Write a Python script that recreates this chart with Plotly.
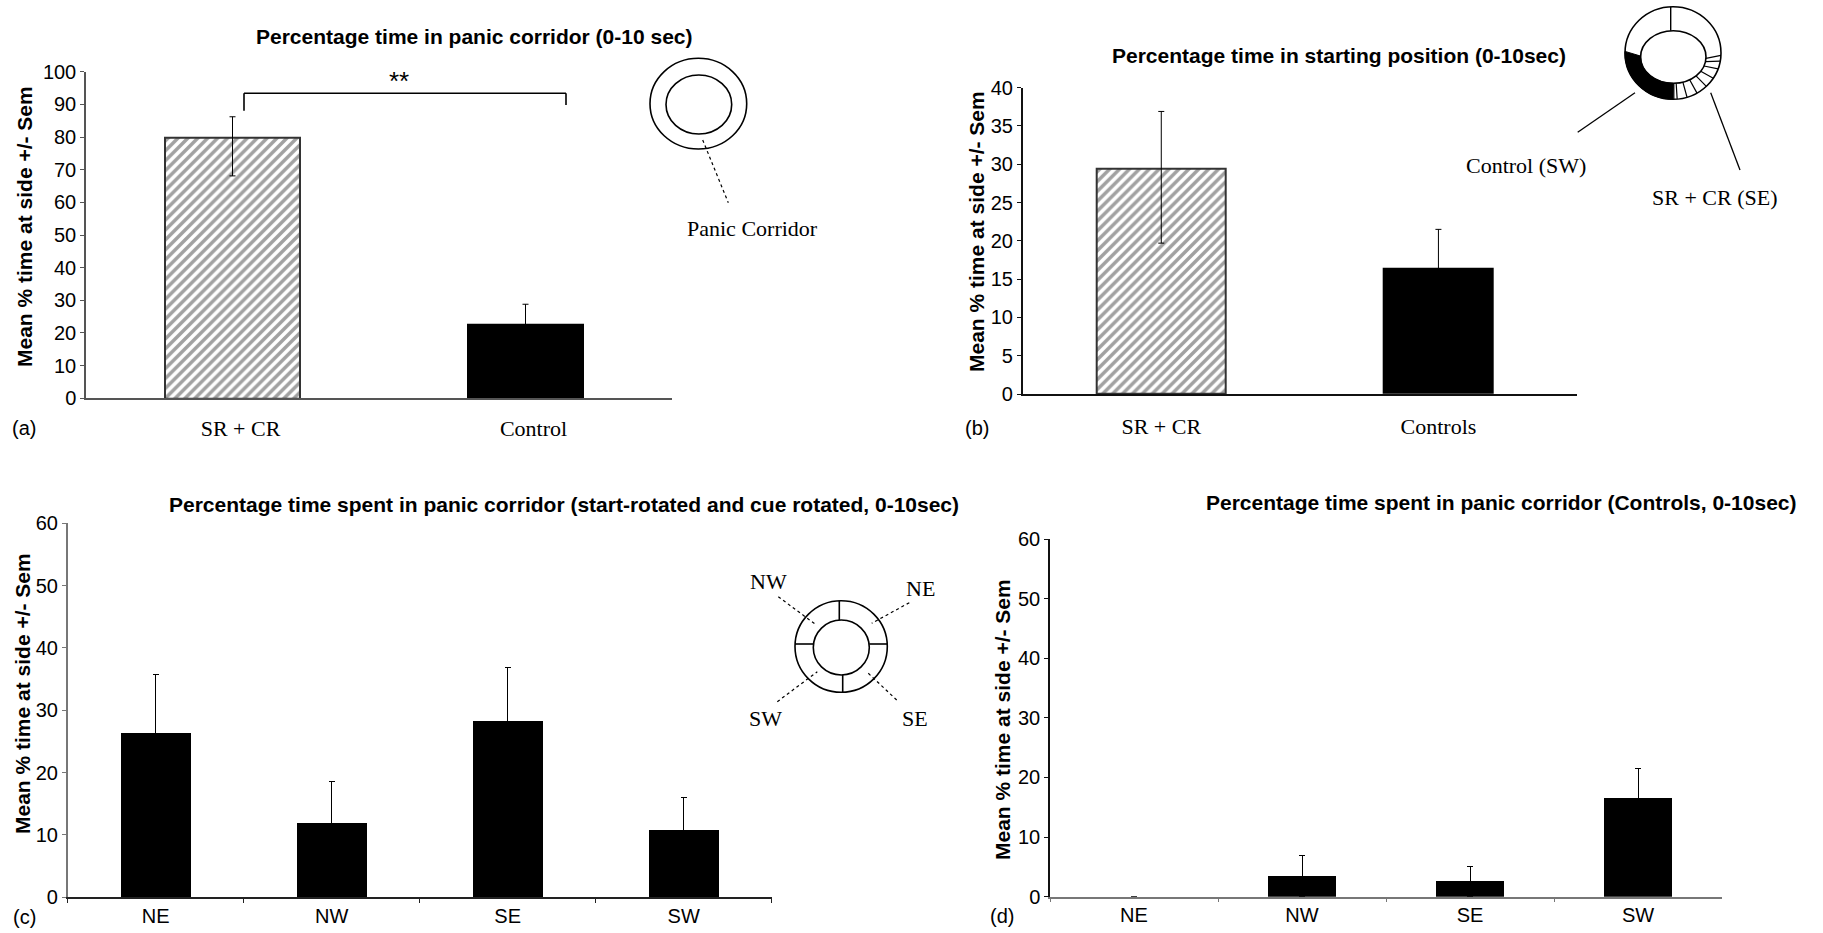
import math
import plotly.graph_objects as go

W, H = 1823, 933

# ---------------- data ----------------
a_categories = ["SR + CR", "Control"]
a_means = [79.8, 22.7]
a_err_plus = [6.4, 6.1]
a_err_minus = [11.7, 6.1]

b_categories = ["SR + CR", "Controls"]
b_means = [29.4, 16.5]
b_err_plus = [7.5, 5.0]
b_err_minus = [9.7, 5.0]

c_categories = ["NE", "NW", "SE", "SW"]
c_means = [26.3, 11.8, 28.3, 10.8]
c_err = [9.5, 6.7, 8.5, 5.2]

d_categories = ["NE", "NW", "SE", "SW"]
d_means = [0.0, 3.5, 2.6, 16.6]
d_err = [0.0, 3.4, 2.5, 4.9]

# ---------------- helpers ----------------
SANS = "Liberation Sans, Arial, sans-serif"
SERIF = "Liberation Serif, Times New Roman, serif"


def px(x):
    return x / W


def py(y):
    return 1 - y / H


fig = go.Figure()

err_style = dict(type="data", color="#000", thickness=1, width=3, visible=True)
hatch = dict(shape=["/", ""], fgcolor="#000", size=7, solidity=0.5, fillmode="overlay")

# Panel a
fig.add_trace(go.Bar(
    x=a_categories, y=a_means, xaxis="x", yaxis="y",
    width=[0.46, 0.40],
    marker=dict(color=["white", "black"],
                line=dict(color=["#333", "black"], width=[2, 0]),
                pattern=hatch),
    error_y=dict(array=a_err_plus, arrayminus=a_err_minus, symmetric=False, **err_style),
    showlegend=False, hoverinfo="skip"))

# Panel b
fig.add_trace(go.Bar(
    x=b_categories, y=b_means, xaxis="x2", yaxis="y2",
    width=[0.466, 0.40],
    marker=dict(color=["white", "black"],
                line=dict(color=["#333", "black"], width=[2, 0]),
                pattern=hatch),
    error_y=dict(array=b_err_plus, arrayminus=b_err_minus, symmetric=False, **err_style),
    showlegend=False, hoverinfo="skip"))

# Panel c
fig.add_trace(go.Bar(
    x=c_categories, y=c_means, xaxis="x3", yaxis="y3", width=0.40,
    marker=dict(color="black", line=dict(width=0)),
    error_y=dict(array=c_err, symmetric=True, **err_style),
    showlegend=False, hoverinfo="skip"))

# Panel d
fig.add_trace(go.Bar(
    x=d_categories, y=d_means, xaxis="x4", yaxis="y4", width=0.40,
    marker=dict(color="black", line=dict(width=0)),
    error_y=dict(array=d_err, symmetric=True, **err_style),
    showlegend=False, hoverinfo="skip"))


def yax(dom, rng, dtick, lc, anchor):
    return dict(domain=dom, range=rng, dtick=dtick, showgrid=False, zeroline=False,
                showline=True, linecolor=lc, linewidth=1.5, ticks="outside", ticklen=4,
                tickcolor=lc, tickfont=dict(family=SANS, size=20, color="black"),
                fixedrange=True, automargin=False, anchor=anchor)


def xax(dom, n, lc, serif, boundary_ticks, anchor, standoff=0, shift=0):
    d = dict(domain=dom, range=[-0.5, n - 0.5], showgrid=False, zeroline=False,
             showline=True, linecolor=lc, linewidth=1.5, fixedrange=True,
             automargin=False, anchor=anchor,
             ticklabelstandoff=standoff, ticklabelshift=shift,
             tickfont=dict(family=SERIF if serif else SANS, size=22 if serif else 20, color="black"))
    if boundary_ticks:
        d.update(ticks="outside", tickson="boundaries", ticklen=4, tickcolor=lc)
    else:
        d.update(ticks="")
    return d


fig.update_layout(
    template="none",
    width=W, height=H, margin=dict(l=0, r=0, t=0, b=0, pad=0), autosize=False,
    paper_bgcolor="white", plot_bgcolor="white", bargap=0, showlegend=False,
    xaxis=xax([px(86), px(672)], 2, "#555", True, False, "y", standoff=10, shift=8),
    yaxis=yax([py(398.3), py(71.7)], [0, 100], 10, "#555", "x"),
    xaxis2=xax([px(1022.7), px(1577)], 2, "#111", True, False, "y2", standoff=12, shift=0),
    yaxis2=yax([py(394), py(87.7)], [0, 40], 5, "#111", "x2"),
    xaxis3=xax([px(67.7), px(771.7)], 4, "#222", False, True, "y3", standoff=0),
    yaxis3=yax([py(897.3), py(523.3)], [0, 60], 10, "#777", "x3"),
    xaxis4=xax([px(1050), px(1722)], 4, "#777", False, True, "y4", standoff=0),
    yaxis4=yax([py(896.7), py(539)], [0, 60], 10, "#111", "x4"),
)

ann = []


def text(x, y, s, size=20, family=SANS, bold=False, angle=0, xanchor="center"):
    ann.append(dict(x=px(x), y=py(y), xref="paper", yref="paper", text=s, showarrow=False,
                    xanchor=xanchor, yanchor="middle", textangle=angle,
                    font=dict(family=family, size=size, color="black",
                              weight="bold" if bold else "normal")))


# titles
text(474, 36, "Percentage time in panic corridor (0-10 sec)", 21, bold=True)
text(1339, 56, "Percentage time in starting position (0-10sec)", 21, bold=True)
text(564, 504, "Percentage time spent in panic corridor (start-rotated and cue rotated, 0-10sec)", 21, bold=True)
text(1501, 502, "Percentage time spent in panic corridor (Controls, 0-10sec)", 21, bold=True)

# y titles
ytitle = "Mean % time at side +/- Sem"
text(25, 227, ytitle, 21, bold=True, angle=-90)
text(976, 232, ytitle, 21, bold=True, angle=-90)
text(22, 694, ytitle, 21, bold=True, angle=-90)
text(1002, 720, ytitle, 21, bold=True, angle=-90)

# panel letters
text(24, 428, "(a)")
text(977, 428, "(b)")
text(24, 917, "(c)")
text(1002, 916, "(d)")

# significance
text(399, 81, "**", 26)

# diagram labels
text(752, 228, "Panic Corridor", 22, SERIF)
text(1526, 166, "Control (SW)", 22, SERIF)
text(1715, 197, "SR + CR (SE)", 22, SERIF)
text(768, 581, "NW", 22, SERIF)
text(921, 588, "NE", 22, SERIF)
text(765, 718, "SW", 22, SERIF)
text(915, 718, "SE", 22, SERIF)

fig.update_layout(annotations=ann)

shapes = []


def line(x0, y0, x1, y1, dash="solid", w=1.3, color="black"):
    shapes.append(dict(type="line", xref="paper", yref="paper",
                       x0=px(x0), y0=py(y0), x1=px(x1), y1=py(y1),
                       line=dict(color=color, width=w, dash=dash)))


def ellipse(x0, y0, x1, y1, w=1.6):
    shapes.append(dict(type="circle", xref="paper", yref="paper",
                       x0=px(x0), y0=py(y1), x1=px(x1), y1=py(y0),
                       line=dict(color="black", width=w)))


def pt(cx, cy, rx, ry, ang):
    a = math.radians(ang)
    return cx + rx * math.cos(a), cy - ry * math.sin(a)


# significance bracket (panel a)
line(244, 110.7, 244, 93.3, w=1.6)
line(244, 93.3, 566, 93.3, w=1.6)
line(566, 93.3, 566, 105, w=1.6)

# panel a diagram
ellipse(650, 58.3, 746.7, 149)
ellipse(666, 75, 731.7, 134)
line(702.7, 140, 728.3, 202.7, dash="dot", w=1.2)

# panel b diagram
ocx, ocy, orx, ory = 1673, 53, 48, 46.3
icx, icy, irx, iry = 1673.3, 57, 32.7, 26.3
pts = [pt(ocx, ocy, orx, ory, a) for a in range(178, 272, 2)]
pts += [pt(icx, icy, irx, iry, a) for a in range(270, 176, -2)]
path = "M " + " L ".join(f"{px(x):.6f},{py(y):.6f}" for x, y in pts) + " Z"
shapes.append(dict(type="path", xref="paper", yref="paper", path=path,
                   fillcolor="black", line=dict(color="black", width=1)))
ellipse(ocx - orx, ocy - ory, ocx + orx, ocy + ory)
ellipse(icx - irx, icy - iry, icx + irx, icy + iry)
line(1670.7, 6.7, 1670.7, 30.7, w=1.4)
for a in [271, 275, 287, 300, 314, 327, 340, 350, 357]:
    x0, y0 = pt(icx, icy, irx, iry, a)
    x1, y1 = pt(ocx, ocy, orx, ory, a)
    line(x0, y0, x1, y1, w=1.2)
line(1635, 92.7, 1577.7, 132.3, w=1.3)
line(1710.7, 92.7, 1740, 170, w=1.3)

# panel c diagram
ellipse(795, 600.7, 887.3, 692.3)
ellipse(813.3, 620, 869.3, 675)
line(839.3, 600.7, 839.3, 620, w=1.6)
line(842.7, 675, 842.7, 692.3, w=1.6)
line(795, 644, 813.3, 644, w=1.6)
line(869.3, 644, 887.3, 644, w=1.6)
line(778.3, 596.7, 815, 624, dash="dot", w=1.2)
line(909.3, 602.7, 871.7, 623.3, dash="dot", w=1.2)
line(777.3, 701.7, 817.3, 671.7, dash="dot", w=1.2)
line(896.7, 700, 868.3, 673.3, dash="dot", w=1.2)

fig.update_layout(shapes=shapes)

fig.write_html("out.html")
